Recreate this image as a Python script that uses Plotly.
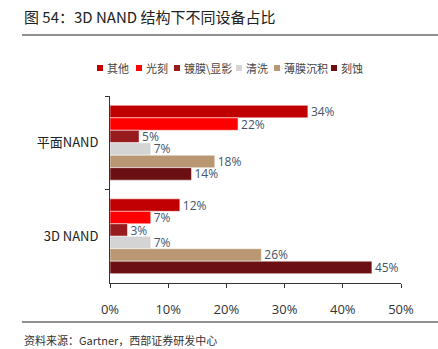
import plotly.graph_objects as go

categories = ["平面NAND", "3D NAND"]
series_names = ["其他", "光刻", "镀膜\\显影", "清洗", "薄膜沉积", "刻蚀"]
values = {
    "其他": [34, 12],
    "光刻": [22, 7],
    "镀膜\\显影": [5, 3],
    "清洗": [7, 7],
    "薄膜沉积": [18, 26],
    "刻蚀": [14, 45],
}
colors = ["#C00000", "#FF0000", "#981B1E", "#D4D4D4", "#B99772", "#6B0F12"]
x_ticks = [0, 10, 20, 30, 40, 50]

# layout constants (pixel positions of the legend entries)
legend_x = [97, 136, 174, 236, 274, 331]
legend_y = 68

W, H = 438, 349
L, R, T, B = 110, 37, 96, 66
pw, ph = W - L - R, H - T - B

def px(x):
    return (x - L) / pw

def py(y):
    return (H - B - y) / ph

fig = go.Figure()
for name, col in zip(series_names, colors):
    fig.add_trace(go.Bar(
        y=categories, x=values[name], name=name, orientation="h",
        marker=dict(color=col, line=dict(color="white", width=0.5)),
        text=[f"{v}%" for v in values[name]], textposition="outside",
        constraintext="none",
        textfont=dict(color="#44546A", size=12, family="Open Sans, Arial"),
        cliponaxis=False, showlegend=False,
    ))

shapes = [
    dict(type="line", xref="paper", yref="paper", x0=px(22), x1=px(438), y0=py(35), y1=py(35),
         line=dict(color="#222", width=1)),
    dict(type="line", xref="paper", yref="paper", x0=px(22), x1=px(438), y0=py(322), y1=py(322),
         line=dict(color="#222", width=1)),
]
annotations = [
    dict(text="图 54：3D NAND 结构下不同设备占比", xref="paper", yref="paper",
         x=px(22), y=py(16), xanchor="left", yanchor="middle", showarrow=False,
         font=dict(size=15, color="#222", family="Noto Sans CJK SC, Arial")),
    dict(text="资料来源：Gartner，西部证券研发中心", xref="paper", yref="paper",
         x=px(22), y=py(340), xanchor="left", yanchor="middle", showarrow=False,
         font=dict(size=11, color="#333", family="Noto Sans CJK SC, Arial")),
]
for name, col, lx in zip(series_names, colors, legend_x):
    shapes.append(dict(type="rect", xref="paper", yref="paper",
                       x0=px(lx), x1=px(lx + 6), y0=py(legend_y - 3), y1=py(legend_y + 3),
                       fillcolor=col, line=dict(width=0)))
    annotations.append(dict(text=name, xref="paper", yref="paper",
                            x=px(lx + 8), y=py(legend_y), xanchor="left", yanchor="middle",
                            showarrow=False,
                            font=dict(size=11, color="#444", family="Noto Sans CJK SC")))

fig.update_layout(
    width=W, height=H,
    margin=dict(l=L, r=R, t=T, b=B),
    paper_bgcolor="white", plot_bgcolor="white",
    barmode="group", bargap=0.2, bargroupgap=0.0,
    font=dict(family="Noto Sans CJK SC, Arial", color="#222"),
    showlegend=False,
    xaxis=dict(range=[0, 50], tickvals=x_ticks, ticktext=[f"{t}%" for t in x_ticks],
               showgrid=False, zeroline=False, showline=True, linecolor="#333", linewidth=1,
               ticks="outside", ticklen=4, tickcolor="#333",
               tickfont=dict(size=13, color="#333", family="Open Sans, Arial"),
               ticklabelstandoff=10),
    yaxis=dict(autorange="reversed", showgrid=False, showline=True, linecolor="#333", linewidth=1,
               ticks="outside", ticklen=4, tickcolor="#333", tickson="boundaries",
               tickfont=dict(size=13, color="#222", family="Noto Sans CJK SC, Open Sans"),
               ticklabelstandoff=8),
    shapes=shapes,
    annotations=annotations,
)

fig.write_html("out.html")
